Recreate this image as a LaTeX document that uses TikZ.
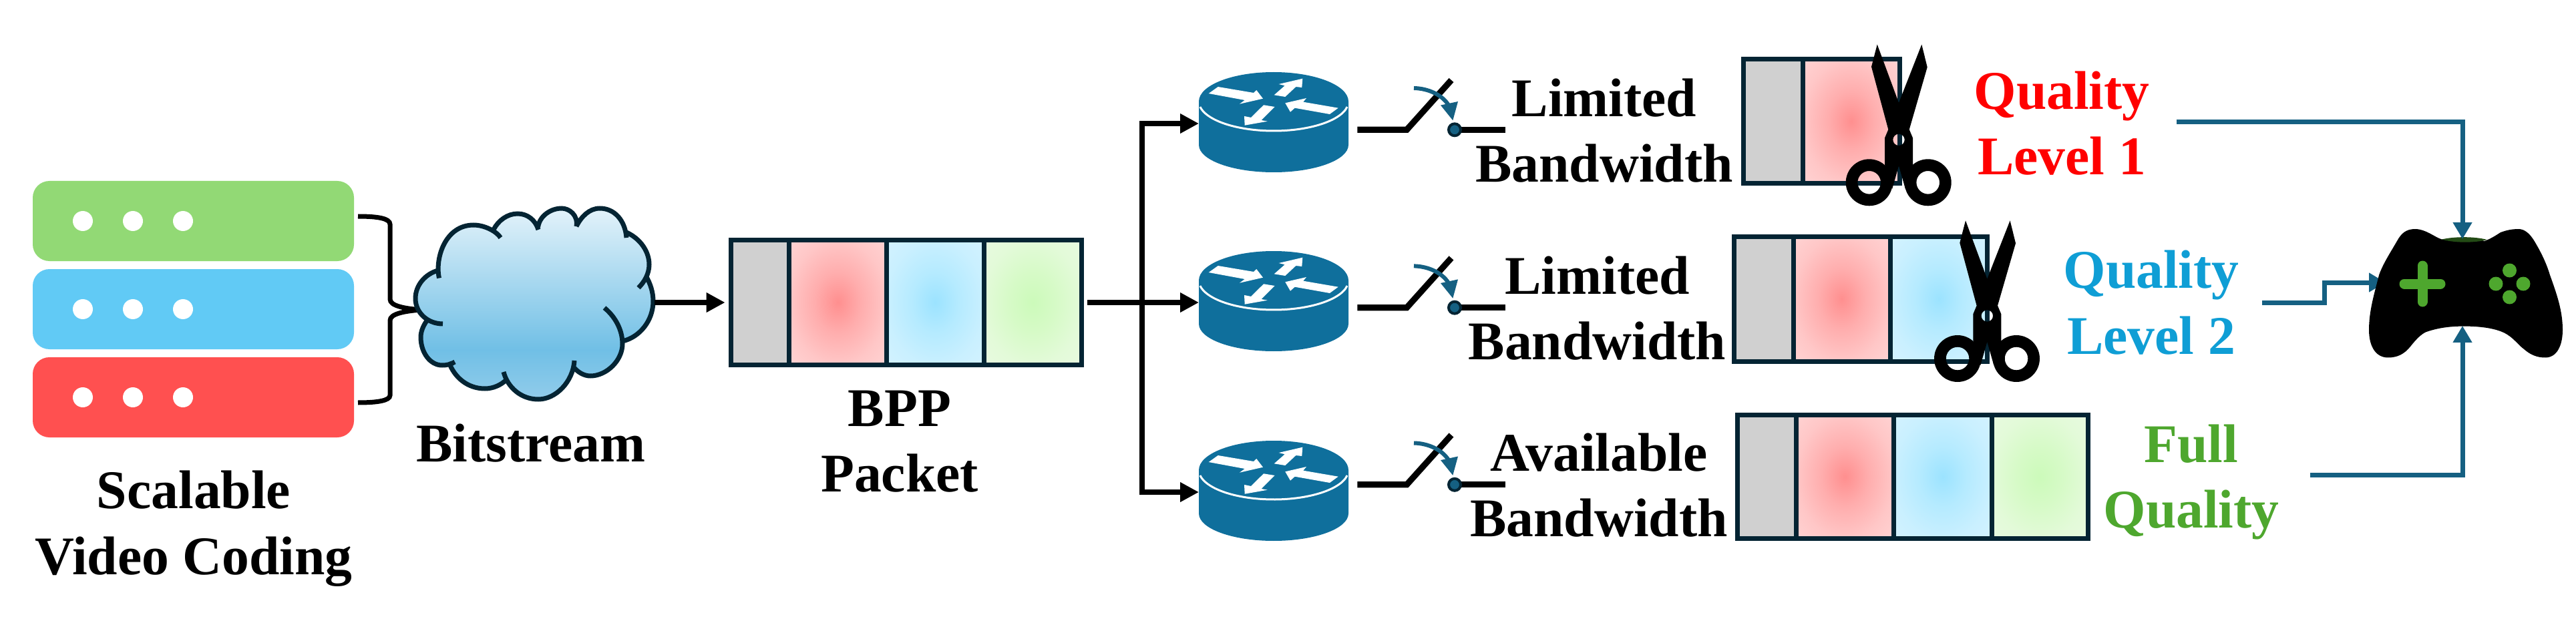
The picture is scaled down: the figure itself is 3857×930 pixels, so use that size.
\documentclass[tikz,border=0pt]{standalone}
\usepackage{fontspec}
\setmainfont{Liberation Serif}
\usetikzlibrary{arrows.meta}

\definecolor{frameDark}{HTML}{042433}
\definecolor{linkBlue}{HTML}{156082}
\definecolor{routerBlue}{HTML}{0F6F9C}
\definecolor{barGreen}{HTML}{92D975}
\definecolor{barBlue}{HTML}{61CAF5}
\definecolor{barRed}{HTML}{FF5050}
\definecolor{cellGray}{HTML}{D0D0D0}
\definecolor{levelRed}{HTML}{FF0000}
\definecolor{levelBlue}{HTML}{0F9ED5}
\definecolor{levelGreen}{HTML}{4EA72E}

\pgfdeclareradialshading{cellRed}{\pgfpoint{0bp}{0bp}}{rgb(0bp)=(1,.56,.56); rgb(12bp)=(1,.68,.68); rgb(25bp)=(1,.78,.78); rgb(36bp)=(1,.83,.83); rgb(50bp)=(1,.83,.83)}
\pgfdeclareradialshading{cellBlue}{\pgfpoint{0bp}{0bp}}{rgb(0bp)=(.61,.89,1); rgb(12bp)=(.71,.92,1); rgb(25bp)=(.79,.94,1); rgb(36bp)=(.83,.95,1); rgb(50bp)=(.83,.95,1)}
\pgfdeclareradialshading{cellGreen}{\pgfpoint{0bp}{0bp}}{rgb(0bp)=(.80,.98,.73); rgb(12bp)=(.84,.98,.78); rgb(25bp)=(.89,.98,.85); rgb(36bp)=(.91,.98,.88); rgb(50bp)=(.91,.98,.88)}
\pgfdeclareverticalshading{cloudFill}{100bp}{rgb(0bp)=(.57,.80,.92); rgb(25bp)=(.57,.80,.92); rgb(38bp)=(.44,.75,.90); rgb(75bp)=(.89,.95,.98); rgb(100bp)=(.89,.95,.98)}

% cloud lobes, each one a separate stroke
\newcommand{\cloudLobes}{
(657.5,416.5) .. controls (651,386) and (667,337) .. (709,337) .. controls (726,337) and (744,347) .. (749.5,356)
(739,344) .. controls (746,330) and (760,320) .. (775,320) .. controls (790,320) and (802,330) .. (806,344)
(805.6,340) .. controls (808,323) and (825,312) .. (841,312) .. controls (852,312) and (866,322) .. (863,339)
(863,339) .. controls (870,325) and (882,312) .. (898,312) .. controls (920,312) and (936,330) .. (938,356)
(938,348) .. controls (960,358) and (972,378) .. (972,396) .. controls (972,410) and (965,422) .. (956,431)
(967,413) .. controls (974,425) and (978,438) .. (978,451) .. controls (978,480) and (958,505) .. (932,511)
(905,461) .. controls (922,475) and (932,495) .. (932,515) .. controls (932,540) and (908,563) .. (884,563) .. controls (875,563) and (866,558) .. (860,551)
(860,540) .. controls (858,572) and (832,598) .. (806,598) .. controls (780,598) and (760,580) .. (754,557)
(759,568) .. controls (750,577) and (738,582) .. (726,582) .. controls (700,582) and (680,565) .. (672,542)
(681,542) .. controls (675,546) and (668,547) .. (662,547) .. controls (644,547) and (630,528) .. (630,505) .. controls (630,496) and (634,487) .. (640,479)
(663,485) .. controls (640,485) and (622,468) .. (622,447) .. controls (622,427) and (637,410) .. (656,405)
}

\tikzset{
  every picture/.style={line width=0.75pt},
  textLbl/.style={font=\fontsize{20.4}{24.6}\selectfont\bfseries, inner sep=0pt, outer sep=0pt, align=center, anchor=base},
  barBox/.style={rounded corners=6.25pt, minimum width=120.25pt, minimum height=30pt, inner sep=0pt, outer sep=0pt},
  slotBox/.style={minimum width=56pt, minimum height=37.5pt, inner sep=0pt, outer sep=0pt},
  pktFrame/.style={draw=frameDark, line width=1.75pt, line join=miter},
  blackLink/.style={draw=black, line width=2pt, -{Triangle[length=7pt,width=7pt]}},
  blueLink/.style={draw=linkBlue, line width=1.75pt, -{Triangle[length=6.2pt,width=6.8pt]}},
  routerIcon/.pic={
    \fill [routerBlue] (-112,-33) -- (-112,32) arc [start angle=180, end angle=0, x radius=112, y radius=41] -- (112,-33) -- cycle;
    \fill [routerBlue] (0,-33) ellipse [x radius=112, y radius=44];
    \draw [white, line width=0.75pt] (0,-33) ++(10.5:112 and 44) arc [start angle=10.5, end angle=169.5, x radius=112, y radius=44];
    \fill [white] (-83.3,-55) -- (-30,-46) -- (-25.7,-50) -- (-16,-37.3) -- (-51,-29.3) -- (-43.3,-35) -- (-97.3,-45) -- cycle;
    \fill [white] (0.7,-42.7) -- (16.7,-56.7) -- (7.7,-59) -- (43.3,-67.3) -- (42.3,-54) -- (33.3,-55) -- (17.3,-40) -- cycle;
    \fill [white] (17.3,-30.7) -- (49,-38) -- (44.3,-32.3) -- (96.7,-23.3) -- (84,-14) -- (31.7,-23.3) -- (25,-17.3) -- cycle;
    \fill [white] (-15,-27.7) -- (1.7,-25) -- (-18.3,-5) -- (-9.3,-3.3) -- (-43.3,2.7) -- (-44,-11) -- (-34,-9) -- cycle;
  },
  switchIcon/.pic={
    \draw [black, line width=2.3pt] (-145.7,0) -- (-71.7,0) -- (-5,-74.3);
    \draw [black, line width=2.3pt] (8,0) -- (75.7,0);
    \filldraw [fill=linkBlue, draw=frameDark, line width=1pt] (0,0) circle (9);
    \draw [linkBlue, line width=1.5pt] (-61,-62.3) .. controls (-40,-62) and (-16,-52) .. (-7,-33);
    \fill [linkBlue] (-21,-36.7) -- (5,-42.3) -- (-2.7,-14) -- cycle;
  },
  scissorIcon/.pic={
    \fill [black, even odd rule] (-32.3,-142.7) -- (0,-55.3) -- (34.3,-142.7) -- (42.7,-108.7) -- (15.7,-15.3) -- (21,-2.7) -- (21,37) -- (10,74) -- (0,39) -- (-10,74) -- (-21,37) -- (-21,-2.7) -- (-15.7,-15.3) -- (-41,-109.3) -- cycle (0,0) circle (8.7);
    \fill [black, even odd rule] (-44.3,64) circle (35) (-44.3,64) circle (17.3);
    \fill [black, even odd rule] (43.7,64) circle (35) (43.7,64) circle (17.3);
  },
}

\begin{document}
\begin{tikzpicture}[x=0.25pt,y=0.25pt,yscale=-1,xscale=1]
\useasboundingbox (0,0) rectangle (3857,930);

% Scalable coding bars
\node (barTop) [barBox, fill=barGreen] at (289.5,331) {};
\node (barMid) [barBox, fill=barBlue] at (289.5,463) {};
\node (barLow) [barBox, fill=barRed] at (289.5,595) {};
\fill [white] (124,331) circle (15) (199,331) circle (15) (274,331) circle (15);
\fill [white] (124,463) circle (15) (199,463) circle (15) (274,463) circle (15);
\fill [white] (124,595) circle (15) (199,595) circle (15) (274,595) circle (15);
\node (lblCoding) [textLbl] at (290,860) {Scalable\\Video Coding};

% Brace into the cloud
\coordinate (braceTop) at (536,324);
\coordinate (braceLow) at (536,603);
\coordinate (braceTip) at (630,464);
\draw [black, line width=1.75pt] (braceTop) .. controls (565,324) and (584,327) .. (584,336) -- (584,448) .. controls (584,458) and (605,462) .. (braceTip) .. controls (605,466) and (584,470) .. (584,480) -- (584,592) .. controls (584,600) and (565,603) .. (braceLow);

% Cloud
\node (cloud) [slotBox, minimum width=90pt, minimum height=72.5pt] at (800,453) {};
\shade [shading=cloudFill] \cloudLobes (657.5,416.5) -- (749.5,356) -- (739,344) -- (806,344) -- (805.6,340) -- (863,339) -- (938,356) -- (938,348) -- (956,431) -- (967,413) -- (932,511) -- (905,461) -- (860,551) -- (860,540) -- (754,557) -- (759,568) -- (672,542) -- (681,542) -- (640,479) -- (663,485) -- (656,405) -- cycle;
\draw [frameDark, line width=1.75pt] \cloudLobes;
\node (lblStream) [textLbl] at (795,691) {Bitstream};

% Main packet
\fill [cellGray] (1094,360) rectangle (1181,546);
\shade [shading=cellRed] (1181,360) rectangle (1327.5,546);
\shade [shading=cellBlue] (1327.5,360) rectangle (1473,546);
\shade [shading=cellGreen] (1473,360) rectangle (1619.5,546);
\node (pktMain) [pktFrame, draw, minimum width=131.375pt, minimum height=46.5pt, inner sep=0pt, outer sep=2.1pt] at (1356.75,453) {};
\draw [pktFrame] (1181,360) -- (1181,546) (1327.5,360) -- (1327.5,546) (1473,360) -- (1473,546);
\node (lblPacket) [textLbl] at (1347,736.7) {BPP\\Packet};
\draw [blackLink] (cloud.east) -- (pktMain.west);

% Routers and feed lines
\node (routerA) [slotBox] at (1907,185) {};
\node (routerB) [slotBox] at (1907,453) {};
\node (routerC) [slotBox] at (1907,737) {};
\pic [transform shape] at (routerA) {routerIcon};
\pic [transform shape] at (routerB) {routerIcon};
\pic [transform shape] at (routerC) {routerIcon};
\coordinate (feedJoin) at (1710,453);
\draw [blackLink] (pktMain.east) -- (routerB.west);
\draw [blackLink] (feedJoin) |- (routerA.west);
\draw [blackLink] (feedJoin) |- (routerC.west);

% Switches
\pic [transform shape] at (2178,194.3) {switchIcon};
\pic [transform shape] at (2178,460.7) {switchIcon};
\pic [transform shape] at (2178,725.8) {switchIcon};
\node (lblBandA) [textLbl] at (2402,272.5) {Limited\\Bandwidth};
\node (lblBandB) [textLbl] at (2391.5,538.6) {Limited\\Bandwidth};
\node (lblBandC) [textLbl] at (2394,803.6) {Available\\Bandwidth};

% Packet after the first cut
\fill [cellGray] (2610.5,88.5) rectangle (2699,274.5);
\shade [shading=cellRed] (2699,88.5) rectangle (2844.5,274.5);
\draw [pktFrame] (2610.5,88.5) rectangle (2844.5,274.5) (2699,88.5) -- (2699,274.5);
\pic [transform shape] at (2843,209.3) {scissorIcon};

% Packet after the second cut
\fill [cellGray] (2596.5,354.5) rectangle (2685,541);
\shade [shading=cellRed] (2685,354.5) rectangle (2830,541);
\shade [shading=cellBlue] (2830,354.5) rectangle (2975.5,541);
\draw [pktFrame] (2596.5,354.5) rectangle (2975.5,541) (2685,354.5) -- (2685,541) (2830,354.5) -- (2830,541);
\pic [transform shape] at (2975.3,473) {scissorIcon};

% Full packet
\fill [cellGray] (2601.5,621.5) rectangle (2689,806.5);
\shade [shading=cellRed] (2689,621.5) rectangle (2835.5,806.5);
\shade [shading=cellBlue] (2835.5,621.5) rectangle (2982,806.5);
\shade [shading=cellGreen] (2982,621.5) rectangle (3126.5,806.5);
\draw [pktFrame] (2601.5,621.5) rectangle (3126.5,806.5) (2689,621.5) -- (2689,806.5) (2835.5,621.5) -- (2835.5,806.5) (2982,621.5) -- (2982,806.5);

% Quality labels
\node (lblLevelA) [textLbl, text=levelRed] at (3087,261.5) {Quality\\Level 1};
\node (lblLevelB) [textLbl, text=levelBlue] at (3221,530) {Quality\\Level 2};
\node (lblFull) [textLbl, text=levelGreen] at (3281,790.6) {Full\\Quality};

% Links to the game pad
\coordinate (outA) at (3258.5,183);
\coordinate (outB) at (3387,453);
\coordinate (outC) at (3459,711.5);
\coordinate (stepB) at (3480,423);
\coordinate (padTop) at (3687,358);
\coordinate (padLeft) at (3572,423);
\coordinate (padLow) at (3687,488);
\draw [blueLink] (outB) -| (stepB) -- (padLeft);

% Game pad
\fill [black] (3690,357) .. controls (3675,358) and (3665,358) .. (3656,358.5) .. controls (3645,355) and (3632,343) .. (3616,343) .. controls (3602,343) and (3595,350) .. (3589,361) .. controls (3578,380) and (3568,395) .. (3562,412) .. controls (3555,440) and (3547,465) .. (3547,494) .. controls (3547,520) and (3558,535.5) .. (3575.5,535.5) .. controls (3590,535.5) and (3600,530) .. (3609,519) .. controls (3620,505) and (3628,498) .. (3636,496) .. controls (3655,490) and (3672,488.6) .. (3690,488.6) .. controls (3715,488.6) and (3740,492) .. (3754,501) .. controls (3765,508) and (3770,516) .. (3778,522) .. controls (3788,531) and (3798,535.5) .. (3811,535.5) .. controls (3828,535.5) and (3837,518) .. (3837,494) .. controls (3837,465) and (3828,440) .. (3818,412) .. controls (3812,392) and (3803,375) .. (3794.6,361) .. controls (3788,350) and (3780,343) .. (3771,343) .. controls (3758,343) and (3750,346) .. (3744,348) .. controls (3735,354) and (3728,358) .. (3720,361) .. controls (3710,358) and (3700,357) .. (3690,357) -- cycle;
\fill [levelGreen!45!black] (3656,358.5) .. controls (3675,354) and (3705,354) .. (3724,359) .. controls (3705,364) and (3675,364) .. (3656,358.5) -- cycle;
\draw [levelGreen, line width=3.75pt, line cap=round] (3600,425) -- (3654,425) (3627,398) -- (3627,452);
\fill [levelGreen] (3757.5,405) circle (10.5) (3757.5,445) circle (10.5) (3737,425) circle (10.5) (3778,425) circle (10.5);
\draw [blueLink] (outA) -| (padTop);
\draw [blueLink] (outC) -| (padLow);

\end{tikzpicture}
\end{document}
